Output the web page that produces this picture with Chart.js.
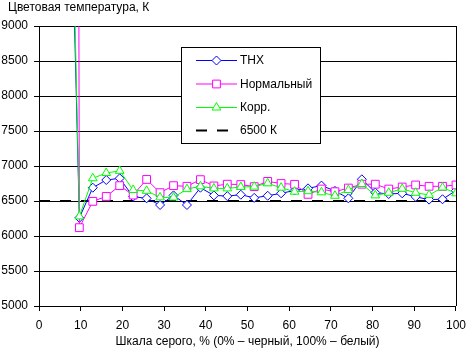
<!DOCTYPE html>
<html><head><meta charset="utf-8">
<script src="https://cdn.jsdelivr.net/npm/chart.js@4/dist/chart.umd.min.js"></script>
<style>html,body{margin:0;padding:0;background:#fff;} #wrap{width:473px;height:349px;}</style>
</head><body><div id="wrap"><canvas id="c" width="473" height="349"></canvas></div>
<script>
// Grey level, % (levels 2..31 of 0..31)
const greyPercent = [6.45, 9.68, 12.9, 16.13, 19.35, 22.58, 25.81, 29.03, 32.26, 35.48, 38.71, 41.94, 45.16, 48.39, 51.61, 54.84, 58.06, 61.29, 64.52, 67.74, 70.97, 74.19, 77.42, 80.65, 83.87, 87.1, 90.32, 93.55, 96.77, 100];
const thx    = [14000, 6260, 6690, 6800, 6824, 6562, 6538, 6443, 6580, 6443, 6690, 6580, 6570, 6590, 6545, 6575, 6610, 6650, 6681, 6720, 6645, 6538, 6810, 6620, 6600, 6610, 6560, 6520, 6525, 6650];
const normal = [90000, 6119, 6495, 6565, 6719, 6585, 6808, 6619, 6719, 6710, 6805, 6715, 6740, 6735, 6705, 6780, 6750, 6738, 6595, 6671, 6633, 6685, 6740, 6740, 6671, 6700, 6729, 6710, 6710, 6729];
const corr   = [14900, 6280, 6825, 6900, 6930, 6657, 6645, 6552, 6550, 6670, 6710, 6680, 6680, 6700, 6705, 6752, 6690, 6633, 6640, 6624, 6575, 6657, 6743, 6580, 6617, 6675, 6617, 6586, 6692, 6610];
const refX = [0, 100];
const refY = [6500, 6500];
const seriesNames = ['THX', 'Нормальный', 'Корр.', '6500 К'];
const yTitle = 'Цветовая температура, К';
const xTitle = 'Шкала серого, % (0% – черный, 100% – белый)';

const FONT = "'Liberation Sans', Arial, sans-serif";
const pts = (xs, ys) => xs.map((x, i) => ({x: x, y: ys[i]}));

function marker(ctx, style, x, y, r) {
  ctx.beginPath();
  if (style === 'rectRot') {
    ctx.moveTo(x, y - r); ctx.lineTo(x + r, y); ctx.lineTo(x, y + r); ctx.lineTo(x - r, y);
  } else if (style === 'rect') {
    const s = r * Math.SQRT1_2; ctx.rect(x - s, y - s, 2 * s, 2 * s);
  } else if (style === 'triangle') {
    for (let k = 0; k < 3; k++) {
      const a = k * 2 * Math.PI / 3;
      const px = x + Math.sin(a) * r, py = y - Math.cos(a) * r;
      if (k === 0) ctx.moveTo(px, py); else ctx.lineTo(px, py);
    }
  }
  ctx.closePath(); ctx.fill(); ctx.stroke();
}

const framePlugin = {
  id: 'frame',
  beforeDatasetsDraw(chart) {
    const a = chart.chartArea, ctx = chart.ctx;
    ctx.save(); ctx.strokeStyle = '#000'; ctx.lineWidth = 1;
    ctx.beginPath();
    ctx.moveTo(Math.round(a.right) + 0.5, a.top); ctx.lineTo(Math.round(a.right) + 0.5, a.bottom);
    ctx.stroke(); ctx.restore();
  },
  afterDraw(chart) {
    const ctx = chart.ctx;
    ctx.save(); ctx.fillStyle = '#000'; ctx.font = '12px ' + FONT;
    ctx.textAlign = 'left'; ctx.textBaseline = 'alphabetic';
    ctx.fillText(yTitle, 8, 11);
    ctx.restore();
  }
};

const boxLegend = {
  id: 'boxLegend',
  afterDraw(chart) {
    const ctx = chart.ctx;
    ctx.save();
    ctx.fillStyle = '#fff'; ctx.strokeStyle = '#000'; ctx.lineWidth = 1;
    ctx.fillRect(181.5, 47.5, 139, 96); ctx.strokeRect(181.5, 47.5, 139, 96);
    const ys = [60, 83.5, 107, 130];
    chart.data.datasets.forEach((ds, i) => {
      const y = ys[i];
      ctx.strokeStyle = ds.borderColor; ctx.lineWidth = ds.borderWidth;
      ctx.setLineDash(ds.borderDash || []);
      ctx.beginPath(); ctx.moveTo(196, y + 0.5); ctx.lineTo(237, y + 0.5); ctx.stroke();
      ctx.setLineDash([]);
      if (ds.pointRadius > 0) {
        ctx.lineWidth = 1; ctx.fillStyle = '#fff'; ctx.strokeStyle = ds.borderColor;
        marker(ctx, ds.pointStyle, 216.5, y + 0.5, ds.pointRadius);
      }
      ctx.fillStyle = '#000'; ctx.font = '12px ' + FONT; ctx.textBaseline = 'middle'; ctx.textAlign = 'left';
      ctx.fillText(ds.label, 240, y + 1);
    });
    ctx.restore();
  }
};

new Chart(document.getElementById('c'), {
  type: 'line',
  data: {
    datasets: [
      {label: seriesNames[0], data: pts(greyPercent, thx), borderColor: '#0000ff', backgroundColor: '#fff',
       borderWidth: 1, pointStyle: 'rectRot', pointRadius: 4.5, pointBorderWidth: 1, pointBackgroundColor: '#fff', order: 2},
      {label: seriesNames[1], data: pts(greyPercent, normal), borderColor: '#ff00ff', backgroundColor: '#fff',
       borderWidth: 1, pointStyle: 'rect', pointRadius: 5.5, pointBorderWidth: 1, pointBackgroundColor: '#fff', order: 1},
      {label: seriesNames[2], data: pts(greyPercent, corr), borderColor: '#00ff00', backgroundColor: '#fff',
       borderWidth: 1, pointStyle: 'triangle', pointRadius: 5, pointBorderWidth: 1, pointBackgroundColor: '#fff', order: 0},
      {label: seriesNames[3], data: pts(refX, refY), borderColor: '#000', borderWidth: 2, borderDash: [11, 10],
       pointRadius: 0, order: 3}
    ]
  },
  options: {
    responsive: false, animation: false, devicePixelRatio: 1,
    layout: {padding: {left: 0, right: 10, top: 26, bottom: 0}},
    plugins: {
      legend: {display: false}, tooltip: {enabled: false}
    },
    scales: {
      x: {type: 'linear', min: 0, max: 100,
        ticks: {stepSize: 10, color: '#000', font: {family: FONT, size: 12}, padding: 7, maxRotation: 0,
                callback: v => String(v)},
        grid: {drawOnChartArea: false, drawTicks: true, tickLength: 5, color: '#000'},
        border: {color: '#000'},
        title: {display: true, text: xTitle, color: '#000', font: {family: FONT, size: 12}, padding: {top: 0, bottom: 0}},
        afterFit: s => { s.height = 43; }
      },
      y: {min: 5000, max: 9000,
        ticks: {stepSize: 500, color: '#000', font: {family: FONT, size: 12}, padding: 6,
                callback: v => String(v)},
        grid: {color: '#000', tickLength: 5},
        border: {color: '#000'},
        afterFit: s => { s.width = 39; }
      }
    }
  },
  plugins: [framePlugin, boxLegend]
});
</script></body></html>
